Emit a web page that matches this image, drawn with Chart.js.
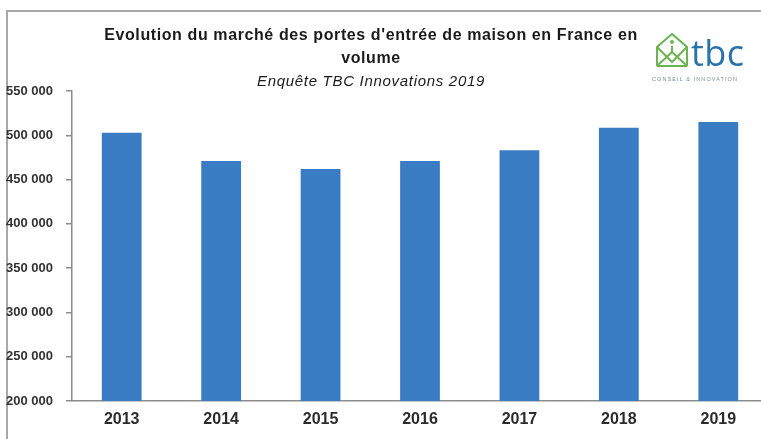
<!DOCTYPE html>
<html>
<head>
<meta charset="utf-8">
<script src="https://cdn.jsdelivr.net/npm/chart.js@4"></script>
<style>
  html, body { margin: 0; padding: 0; background: #fff; overflow: hidden; width: 761px; height: 439px; }
  #wrap { position: relative; width: 768px; height: 439px; }
  #frame { position: absolute; left: 6px; top: 10px; width: 800px; height: 500px; border: 2px solid #a8a8a8; box-sizing: border-box; }
  #chart { position: absolute; left: 0; top: 0; }
  .title { position: absolute; left: 0; width: 742px; text-align: center; color: #1a1a1a; font-family: "Liberation Sans", Arial, sans-serif; white-space: nowrap; line-height: 1; }
  #t1 { top: 27px; font-size: 16px; font-weight: bold; letter-spacing: 0.6px; }
  #t2 { top: 50px; font-size: 16px; font-weight: bold; letter-spacing: 0.6px; }
  #t3 { top: 73px; font-size: 15px; font-style: italic; letter-spacing: 0.7px; }
  .tbc { position: absolute; left: 691px; top: 35px; line-height: 1; font-family: "Open Sans", sans-serif; font-size: 36px; color: #2a73aa; letter-spacing: 0.5px; }
  .logo-sub { position: absolute; left: 652px; top: 77px; line-height: 1; font-family: "Liberation Sans", sans-serif; font-size: 5.5px; color: #7a8a99; letter-spacing: 1.1px; white-space: nowrap; }
  #house { position: absolute; left: 655px; top: 33px; }
</style>
</head>
<body>
<div id="wrap">
  <div id="frame"></div>
  <canvas id="chart" width="768" height="439"></canvas>
  <div class="title" id="t1">Evolution du marché des portes d'entrée de maison en France en</div>
  <div class="title" id="t2">volume</div>
  <div class="title" id="t3">Enquête TBC Innovations 2019</div>
  <svg id="house" width="34" height="35" viewBox="0 0 34 35">
    <g fill="none" stroke="#6cb44e" stroke-width="2">
      <polyline points="2,33 2,14 17,1 32,14 32,33"/>
      <line x1="2" y1="33" x2="32" y2="33"/>
      <polyline points="2,14 17,29 32,14"/>
      <line x1="3" y1="32" x2="17" y2="19"/>
      <line x1="31" y1="32" x2="17" y2="19"/>
      <line x1="17" y1="13" x2="17" y2="19"/>
    </g>
    <circle cx="17" cy="9" r="2" fill="#6cb44e"/>
  </svg>
  <div class="tbc">tbc</div>
  <div class="logo-sub">CONSEIL &amp; INNOVATION</div>
</div>
<script>
const years = ['2013', '2014', '2015', '2016', '2017', '2018', '2019'];
const volumes = [503000, 471000, 462000, 471000, 483000, 508500, 515000];
const yMin = 200000;
const yMax = 550000;
const yStep = 50000;

function formatThousands(v) {
  return String(v).replace(/\B(?=(\d{3})+(?!\d))/g, ' ');
}

const ctx = document.getElementById('chart').getContext('2d');
new Chart(ctx, {
  type: 'bar',
  data: {
    labels: years,
    datasets: [{
      data: volumes,
      backgroundColor: '#3a7cc3',
      borderWidth: 0,
      categoryPercentage: 0.8,
      barPercentage: 0.5
    }]
  },
  options: {
    responsive: false,
    animation: false,
    layout: { padding: { top: 91, left: 0, right: 0, bottom: 0 } },
    plugins: {
      legend: { display: false },
      tooltip: { enabled: false },
      title: { display: false }
    },
    scales: {
      x: {
        grid: { display: false, drawTicks: false },
        border: { display: true, color: '#8c8c8c', width: 1.5 },
        ticks: {
          color: '#2b2b2b',
          padding: 9,
          font: { family: 'Liberation Sans', size: 16, weight: 'bold' }
        },
        afterFit: (scale) => { scale.height = 38; }
      },
      y: {
        min: yMin,
        max: yMax,
        grid: { drawOnChartArea: false, drawTicks: true, tickLength: 6, color: '#8c8c8c', lineWidth: 1.5 },
        border: { display: true, color: '#8c8c8c', width: 1.5 },
        ticks: {
          stepSize: yStep,
          color: '#333',
          padding: 13,
          font: { family: 'Liberation Sans', size: 13, weight: 'bold' },
          callback: (v) => formatThousands(v)
        },
        afterFit: (scale) => { scale.width = 72; }
      }
    }
  }
});
</script>
</body>
</html>
